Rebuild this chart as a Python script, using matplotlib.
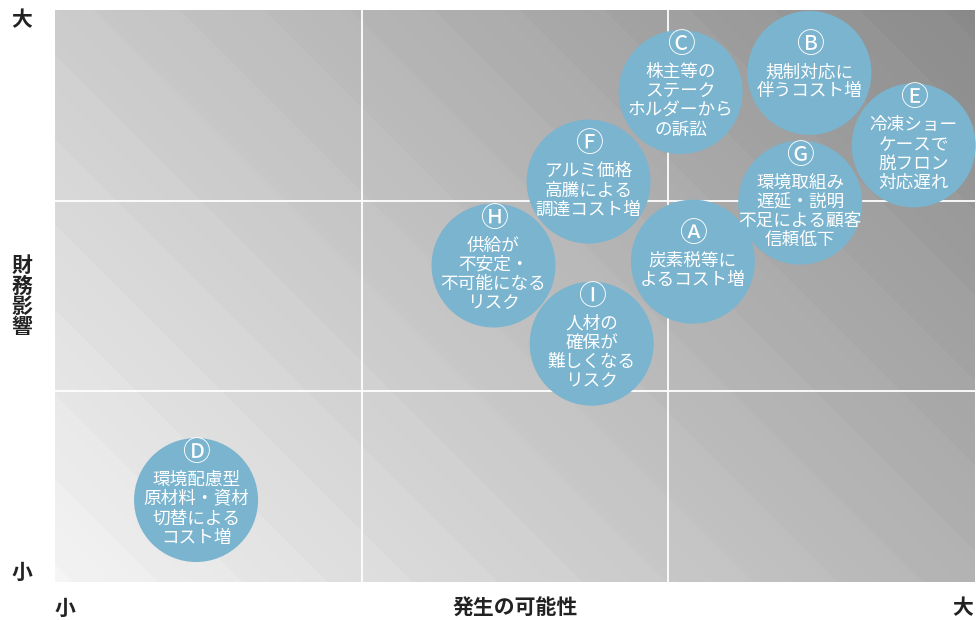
import matplotlib
matplotlib.use('Agg')
import matplotlib.pyplot as plt
import numpy as np

plt.rcParams['font.family'] = ['Noto Sans CJK JP', 'DejaVu Sans']

# risk items: likelihood (x, 0-3) and financial impact (y, 0-3)
risk_ids = ['A', 'B', 'C', 'D', 'E', 'F', 'G', 'H', 'I']
risk_marks = ['Ⓐ', 'Ⓑ', 'Ⓒ', 'Ⓓ', 'Ⓔ', 'Ⓕ', 'Ⓖ', 'Ⓗ', 'Ⓘ']
likelihood = [2.08, 2.46, 2.04, 0.46, 2.80, 1.74, 2.43, 1.43, 1.75]
impact = [1.68, 2.67, 2.57, 0.43, 2.29, 2.10, 1.99, 1.66, 1.25]
risk_labels = [
    ['炭素税等に', 'よるコスト増'],
    ['規制対応に', '伴うコスト増'],
    ['株主等の', 'ステーク', 'ホルダーから', 'の訴訟'],
    ['環境配慮型', '原材料・資材', '切替による', 'コスト増'],
    ['冷凍ショー', 'ケースで', '脱フロン', '対応遅れ'],
    ['アルミ価格', '高騰による', '調達コスト増'],
    ['環境取組み', '遅延・説明', '不足による顧客', '信頼低下'],
    ['供給が', '不安定・', '不可能になる', 'リスク'],
    ['人材の', '確保が', '難しくなる', 'リスク'],
]

bubble_color = '#7ab4cf'
dpi = 100
fig = plt.figure(figsize=(9.76, 6.2), dpi=dpi)
ax = fig.add_axes([55 / 976, 38 / 620, 920 / 976, 572 / 620])

# background: diagonal gradient with soft stripes
nx, ny = 920, 572
u = np.linspace(0, 1, nx)
v = np.linspace(1, 0, ny)
U, V = np.meshgrid(u, v)
s = -527 + 920 * U + 572 * V
gray = 245 - 0.0717 * (s + 527)
stripe = ((s % 85) / 85.0)
gray = gray + 3.5 * stripe - 1.75
gray = np.clip(gray, 0, 255) / 255.0
img = np.dstack([gray, gray, gray])
ax.imshow(img, extent=[0, 3, 0, 3], aspect='auto', zorder=0, interpolation='bilinear')

for k in [1, 2]:
    ax.axvline(k, color='white', lw=1.3, zorder=1)
    ax.axhline(k, color='white', lw=1.3, zorder=1)

ax.set_xlim(0, 3)
ax.set_ylim(0, 3)
ax.set_xticks([])
ax.set_yticks([])
for sp in ax.spines.values():
    sp.set_visible(False)

ax.scatter(likelihood, impact, s=(124 * 72 / dpi) ** 2, color=bubble_color,
           edgecolors='none', zorder=3, clip_on=False)

line_h = 19.2
for mark, x, y, lines in zip(risk_marks, likelihood, impact, risk_labels):
    n = len(lines)
    top = -(n * line_h + 25) / 2 + 12 - 8
    ax.annotate(mark, (x, y), xytext=(0, -top), textcoords='offset pixels',
                ha='center', va='center', color='white', fontsize=20, zorder=4)
    for i, t in enumerate(lines):
        off = top + 27 + i * line_h
        ax.annotate(t, (x, y), xytext=(0, -off), textcoords='offset pixels',
                    ha='center', va='center', color='white', fontsize=12.7, zorder=4)

# axis end labels
lab = dict(color='#222222', fontsize=15, fontweight='bold', ha='center', va='center')
fig.text(22 / 976, 1 - 20 / 620, '大', **lab)
fig.text(22 / 976, 1 - 572 / 620, '小', **lab)
fig.text(22 / 976, 1 - 296 / 620, '財\n務\n影\n響', linespacing=0.95, **lab)
fig.text(65 / 976, 1 - 608 / 620, '小', **lab)
fig.text(515 / 976, 1 - 608 / 620, '発生の可能性', **lab)
fig.text(963 / 976, 1 - 608 / 620, '大', **lab)

fig.savefig('out.png', dpi=dpi)
